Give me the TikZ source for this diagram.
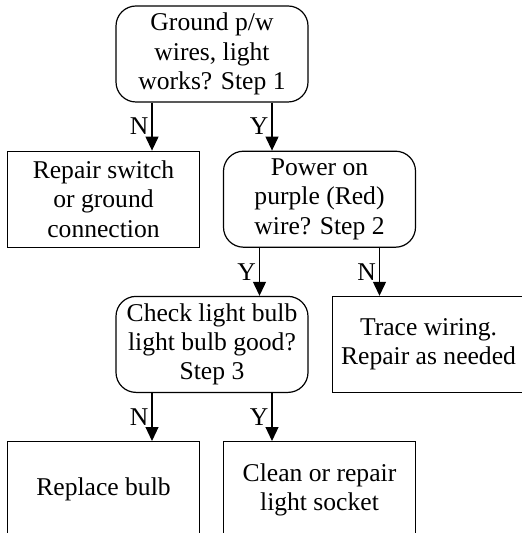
\documentclass[tikz,border=0pt]{standalone}
\usepackage{fontspec}
\setmainfont{Liberation Serif}
\usetikzlibrary{arrows.meta,positioning}

\begin{document}
\begin{tikzpicture}
      [ node distance=24pt,
        every node/.style={font=\fontsize{12.8}{14.6}\selectfont},
        box/.style={draw, line width=0.6pt, minimum width=96pt,
                    minimum height=48pt, inner sep=1pt, align=center},
        test/.style={box, rounded corners=10pt},
        fix/.style={box},
        yn/.style={left, midway, inner sep=1.5pt},
        arr/.style={-{Triangle[length=7pt,width=6.5pt]}, line width=0.6pt}
      ]
      \useasboundingbox (0,0) rectangle (260.5pt,-266.5pt);

      \node[test]  (step1)  at (106pt,-27pt)                  {Ground p/w\\ wires, light\\ works? Step 1};
      \node[fix]   (repair) [below=of step1, xshift=-54.25pt] {Repair switch\\ or ground\\ connection};
      \node[test]  (step2)  [below=of step1, xshift=53.75pt]  {Power on\\ purple (Red)\\ wire? Step 2};
      \node[test]  (step3)  [below=of step2, xshift=-53.75pt] {Check light bulb\\ light bulb good?\\ Step 3};
      \node[fix]   (trace)  [below=of step2, xshift=54.5pt]   {Trace wiring.\\ Repair as needed};
      \node[fix]   (bulb)   [below=of step3, xshift=-54.25pt] {Replace bulb};
      \node[fix]   (socket) [below=of step3, xshift=53.75pt]  {Clean or repair\\ light socket};

      \draw[arr] ([xshift=-30pt]step1.south) -- ([xshift=-30pt]step1.south |- repair.north) node[yn] {N};
      \draw[arr] ([xshift=30pt]step1.south)  -- ([xshift=30pt]step1.south |- step2.north)   node[yn] {Y};
      \draw[arr] ([xshift=-30pt]step2.south) -- ([xshift=-30pt]step2.south |- step3.north)  node[yn] {Y};
      \draw[arr] ([xshift=30pt]step2.south)  -- ([xshift=30pt]step2.south |- trace.north)   node[yn] {N};
      \draw[arr] ([xshift=-30pt]step3.south) -- ([xshift=-30pt]step3.south |- bulb.north)   node[yn] {N};
      \draw[arr] ([xshift=30pt]step3.south)  -- ([xshift=30pt]step3.south |- socket.north)  node[yn] {Y};
    \end{tikzpicture}
\end{document}
